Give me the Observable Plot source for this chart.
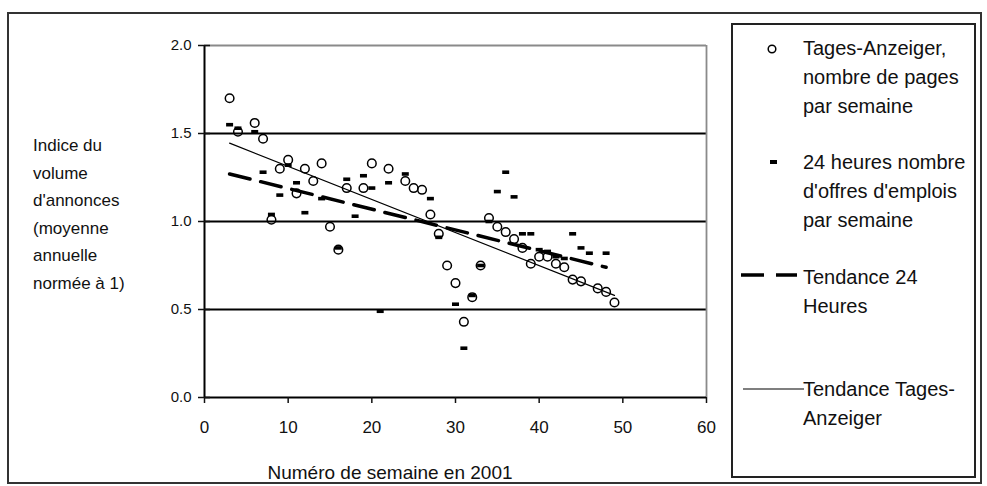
<!DOCTYPE html>
<html><head><meta charset="utf-8">
<script src="https://cdn.jsdelivr.net/npm/d3@7"></script>
<script src="https://cdn.jsdelivr.net/npm/@observablehq/plot@0.6"></script>
<style>
body{margin:0;background:#fff;}
#chart svg{display:block;}
</style></head><body><div id="chart"></div>
<script>
// Tages-Anzeiger, nombre de pages par semaine
const weeksTA = [3,4,6,7,8,9,10,11,12,13,14,15,16,17,19,20,22,24,25,26,27,28,29,30,31,32,33,34,35,36,37,38,39,40,41,42,43,44,45,47,48,49];
const valuesTA = [1.70,1.51,1.56,1.47,1.01,1.30,1.35,1.16,1.30,1.23,1.33,0.97,0.84,1.19,1.19,1.33,1.30,1.23,1.19,1.18,1.04,0.93,0.75,0.65,0.43,0.57,0.75,1.02,0.97,0.94,0.90,0.85,0.76,0.80,0.80,0.76,0.74,0.67,0.66,0.62,0.60,0.54];
// 24 heures, nombre d'offres d'emplois par semaine
const weeks24 = [3,4,6,7,8,9,10,11,12,14,16,17,18,19,20,21,22,24,27,28,30,31,32,33,34,35,36,37,38,39,40,41,42,43,44,45,46,48];
const values24 = [1.55,1.53,1.51,1.28,1.04,1.15,1.32,1.22,1.05,1.13,0.85,1.24,1.03,1.26,1.19,0.49,1.22,1.27,1.13,0.91,0.53,0.28,0.58,0.75,1.00,1.17,1.28,1.14,0.93,0.93,0.84,0.83,0.80,0.79,0.93,0.85,0.82,0.82];
// Trend lines (end points)
const trendWeeks24 = [3, 48];
const trendValues24 = [1.27, 0.74];
const trendWeeksTA = [3, 49];
const trendValuesTA = [1.445, 0.58];
// Axes
const xTicks = [0,10,20,30,40,50,60];
const yTicks = [0,0.5,1,1.5,2];
const gridMajor = [0.5,1,1.5];
const xTitle = "Numéro de semaine en 2001";
const yTitleLines = ["Indice du","volume","d'annonces","(moyenne","annuelle","normée à 1)"];
const legendTA = ["Tages-Anzeiger,","nombre de pages","par semaine"];
const legend24 = ["24 heures nombre","d'offres d'emplois","par semaine"];
const legendTrend24 = ["Tendance 24","Heures"];
const legendTrendTA = ["Tendance Tages-","Anzeiger"];

const FONT = '"Liberation Sans", Arial, sans-serif';

const ta = weeksTA.map((w,i)=>({week:w, value:valuesTA[i]}));
const h24 = weeks24.map((w,i)=>({week:w, value:values24[i]}));
const tr24 = trendWeeks24.map((w,i)=>({week:w, value:trendValues24[i]}));
const trTA = trendWeeksTA.map((w,i)=>({week:w, value:trendValuesTA[i]}));

const dashSymbol = {draw(ctx){ const w=3.5,h=1.8; ctx.moveTo(-w,-h); ctx.lineTo(w,-h); ctx.lineTo(w,h); ctx.lineTo(-w,h); ctx.closePath(); }};

const chart = Plot.plot({
  width: 987, height: 486,
  marginLeft: 204, marginRight: 281, marginTop: 45, marginBottom: 89,
  style: {fontFamily: FONT, background: "white", color: "#111"},
  x: {domain: [0, 60]},
  y: {domain: [0, 2]},
  marks: [
    Plot.ruleY(gridMajor, {stroke: "#000", strokeWidth: 1.8}),
    Plot.ruleY([2], {stroke: "#8a8a8a", strokeWidth: 1.8}),
    Plot.ruleX([60], {stroke: "#8a8a8a", strokeWidth: 1.8}),
    Plot.line(trTA, {x: "week", y: "value", stroke: "#000", strokeWidth: 1.2}),
    Plot.line(tr24, {x: "week", y: "value", stroke: "#000", strokeWidth: 3.5, strokeDasharray: "21,11"}),
    Plot.dot(ta, {x: "week", y: "value", r: 4.3, stroke: "#000", fill: "none", strokeWidth: 1.5}),
    Plot.dot(h24, {x: "week", y: "value", symbol: dashSymbol, fill: "#000", stroke: "none"}),
    Plot.ruleX([0], {stroke: "#000", strokeWidth: 2}),
    Plot.ruleY([0], {stroke: "#000", strokeWidth: 2}),
    Plot.axisX({ticks: xTicks, tickSize: 6, tickPadding: 17, tickFormat: d => String(d), fontSize: 17, label: null, strokeWidth: 1.5}),
    Plot.axisY({ticks: yTicks, tickSize: 6, tickPadding: 7, tickFormat: d3.format(".1f"), fontSize: 15, label: null, strokeWidth: 1.5}),
    Plot.axisY({ticks: yTicks, tickSize: 6, text: null, dx: 6, label: null, strokeWidth: 1.5})
  ]
});
document.getElementById("chart").appendChild(chart);

const svg = d3.select(chart);
// outer frame
svg.append("rect").attr("x", 8).attr("y", 13).attr("width", 973).attr("height", 470)
  .attr("fill", "none").attr("stroke", "#333").attr("stroke-width", 2);
// x title
svg.append("text").attr("x", 390).attr("y", 479).attr("text-anchor", "middle")
  .attr("font-family", FONT).attr("font-size", 19).attr("fill", "#111").text(xTitle);
// y title
const yt = svg.append("text").attr("font-family", FONT).attr("font-size", 17).attr("text-anchor", "start").attr("fill", "#111");
yTitleLines.forEach((t,i)=> yt.append("tspan").attr("x", 33).attr("y", 151 + i*27.6).text(t));
// legend box
const lg = svg.append("g");
lg.append("rect").attr("x", 732).attr("y", 24).attr("width", 243).attr("height", 453)
  .attr("fill", "white").attr("stroke", "#222").attr("stroke-width", 2);
function block(lines, y0){
  const t = lg.append("text").attr("font-family", FONT).attr("font-size", 20).attr("text-anchor", "start").attr("fill", "#111");
  lines.forEach((s,i)=> t.append("tspan").attr("x", 803).attr("y", y0 + i*29).text(s));
}
block(legendTA, 55);
block(legend24, 169);
block(legendTrend24, 284);
block(legendTrendTA, 396);
lg.append("circle").attr("cx", 772).attr("cy", 49).attr("r", 3.8).attr("fill", "none").attr("stroke", "#000").attr("stroke-width", 1.5);
lg.append("rect").attr("x", 770).attr("y", 160).attr("width", 7).attr("height", 4).attr("fill", "#000");
lg.append("line").attr("x1", 741).attr("x2", 797).attr("y1", 275).attr("y2", 275).attr("stroke", "#000").attr("stroke-width", 3.5).attr("stroke-dasharray", "23,12");
lg.append("line").attr("x1", 743).attr("x2", 804).attr("y1", 389).attr("y2", 389).attr("stroke", "#000").attr("stroke-width", 1.2);
</script></body></html>
